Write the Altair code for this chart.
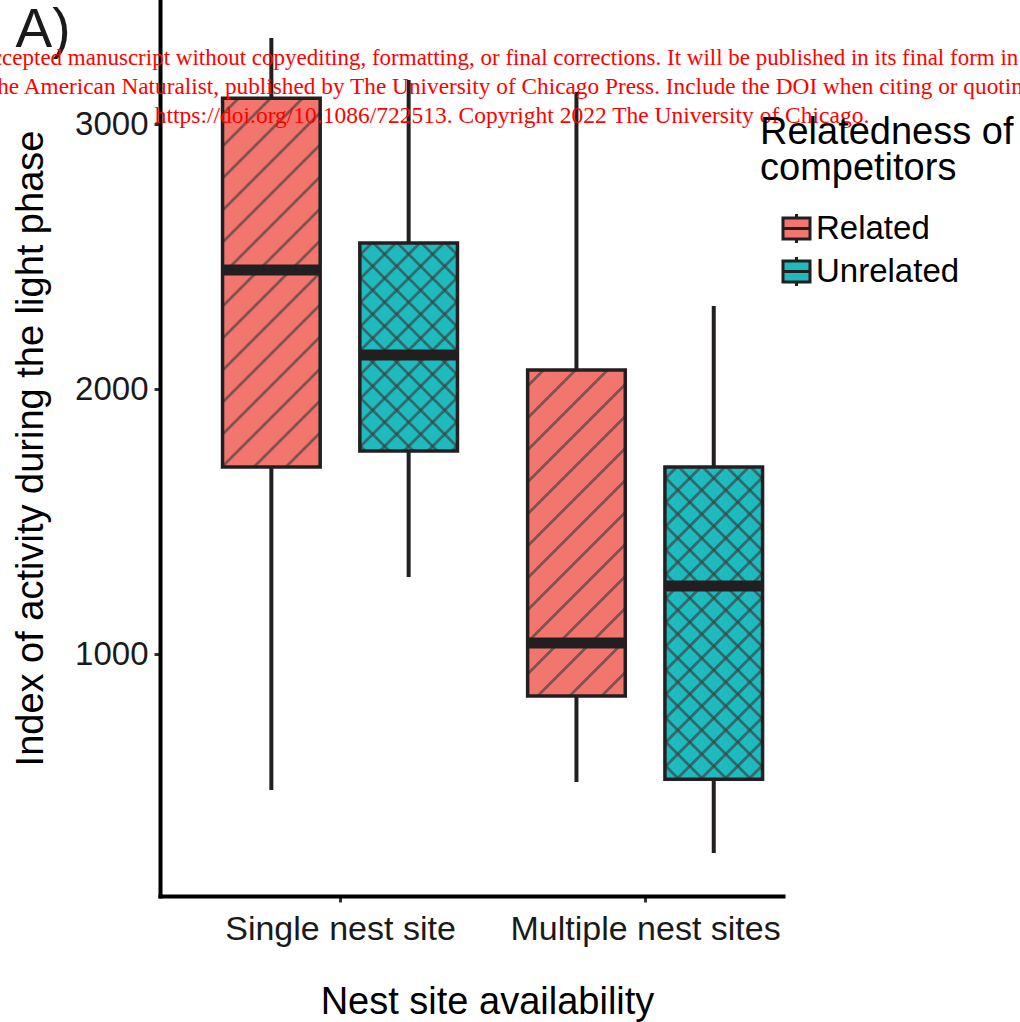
import altair as alt
import pandas as pd

# ---- data ----
sites = ["Single nest site", "Single nest site", "Multiple nest sites", "Multiple nest sites"]
relatedness = ["Related", "Unrelated", "Related", "Unrelated"]
whisker_low = [488, 1292, 518, 250]
q1 = [1707, 1767, 843, 529]
median = [2450, 2129, 1043, 1258]
q3 = [3098, 2552, 2073, 1707]
whisker_high = [3326, 3167, 3122, 2314]

rel_levels = ["Related", "Unrelated"]
rel_colors = ["#F3766E", "#1FBABD"]
site_levels = ["Single nest site", "Multiple nest sites"]

watermark = [
    "accepted manuscript without copyediting, formatting, or final corrections. It will be published in its final form in",
    "The American Naturalist, published by The University of Chicago Press. Include the DOI when citing or quoting:",
    "https://doi.org/10.1086/722513. Copyright 2022 The University of Chicago.",
]
watermark_sizes = [23.0, 23.3, 23.5]
watermark_x = [340, 352, 352]

df = pd.DataFrame({
    "site": sites, "rel": relatedness, "wlo": whisker_low, "q1": q1,
    "med": median, "q3": q3, "whi": whisker_high,
})

# ---- layout ----
W, H = 623, 896
XDOM = [0.41, 2.452]
YDOM = [88, 3469]
DODGE = 0.225
HALF = 0.16
INK = "#231F20"
FONT = "Liberation Sans"

px_x = W / (XDOM[1] - XDOM[0])
px_y = H / (YDOM[1] - YDOM[0])


def stripes(w, h, direction, period, lw, color, phase=0.0, soft=1.2):
    """Linear gradient in bounding-box units that draws 45 degree stripes."""
    S = w + h
    m = (w + h) / (w * w + h * h)
    a, b = w * m, h * m
    if direction == "/":
        x1, y1, x2, y2 = 0, 0, a, b
    else:
        x1, y1, x2, y2 = 1, 0, 1 - a, b
    clear = "rgba(60,60,60,0)"
    stops = [(0.0, clear)]
    c = phase
    while c - lw < S:
        for off, col in [(c - lw / 2 - soft, clear), (c - lw / 2, color),
                         (c + lw / 2, color), (c + lw / 2 + soft, clear)]:
            o = min(max(off / S, 0.0), 1.0)
            if o < stops[-1][0]:
                o = stops[-1][0]
            stops.append((o, col))
        c += period
    stops.append((1.0, clear))
    return alt.LinearGradient(
        gradient="linear", x1=x1, y1=y1, x2=x2, y2=y2,
        stops=[alt.GradientStop(color=col, offset=o) for o, col in stops],
    )


xs = alt.Scale(domain=XDOM, nice=False, zero=False)
ys = alt.Scale(domain=YDOM, nice=False, zero=False)

x_axis = alt.Axis(
    values=[1, 2], title="Nest site availability", grid=False,
    labelExpr="datum.value == 1 ? 'Single nest site' : 'Multiple nest sites'",
    labelFontSize=34, titleFontSize=38, labelFont=FONT, titleFont=FONT,
    labelColor="#1a1a1a", titleColor="#000", titleFontWeight="normal",
    domainColor="#000", domainWidth=4, domainCap="square", labelLimit=0,
    tickColor="#333", tickWidth=3, tickSize=6, labelPadding=10, titlePadding=37,
    titleX=327, titleAlign="center",
)
y_axis = alt.Axis(
    values=[1000, 2000, 3000], format="d", title="Index of activity during the light phase",
    grid=False, labelFontSize=33, titleFontSize=38, labelFont=FONT, titleFont=FONT,
    labelColor="#1a1a1a", titleColor="#000", titleFontWeight="normal",
    domainColor="#000", domainWidth=4, domainCap="square", titleLimit=0,
    tickColor="#333", tickWidth=3, tickSize=6, labelPadding=6, titlePadding=24,
)

base = alt.Chart(df).transform_calculate(
    xc="(datum.site == 'Single nest site' ? 1 : 2) + (datum.rel == 'Related' ? -%f : %f)" % (DODGE, DODGE),
).transform_calculate(
    xl="datum.xc - %f" % HALF, xr="datum.xc + %f" % HALF,
)

whiskers = base.mark_rule(color=INK, strokeWidth=4).encode(
    x=alt.X("xc:Q", scale=xs, axis=x_axis),
    y=alt.Y("wlo:Q", scale=ys, axis=y_axis),
    y2="whi:Q",
)

glyph = "M-0.9,-0.7H0.9V0.7H-0.9Z M-0.9,0H0.9 M0,-0.7V-0.97 M0,0.7V0.97"

boxes = base.mark_bar(strokeWidth=0).encode(
    x=alt.X("xl:Q", scale=xs), x2="xr:Q",
    y=alt.Y("q1:Q", scale=ys), y2="q3:Q",
    color=alt.Color(
        "rel:N", scale=alt.Scale(domain=rel_levels, range=rel_colors),
        legend=alt.Legend(
            title=["Relatedness of", "competitors"], orient="none",
            legendX=600, legendY=114, padding=0,
            symbolType=glyph, symbolSize=900, symbolStrokeColor=INK,
            symbolStrokeWidth=3, symbolOffset=20,
            labelFontSize=33, labelFont=FONT, labelColor="#000", labelOffset=3,
            labelLimit=0, titleLimit=0,
            titleFontSize=38, titleFont=FONT, titleColor="#000",
            titleFontWeight="normal", titleLineHeight=36, titlePadding=24,
            rowPadding=0,
        ),
    ),
)

layers = [whiskers, boxes]

STRIPE = "rgba(60,60,60,0.62)"
for s, r, lo, hi in zip(sites, relatedness, q1, q3):
    w = 2 * HALF * px_x
    h = (hi - lo) * px_y
    dirs = ["/"] if r == "Related" else ["/", "\\"]
    period = 32 if r == "Related" else 24
    for d in dirs:
        g = stripes(w, h, d, period, 2.8, STRIPE, phase=period / 2)
        layers.append(
            base.transform_filter(
                (alt.datum.site == s) & (alt.datum.rel == r)
            ).mark_bar(fill=g, strokeWidth=0).encode(
                x=alt.X("xl:Q", scale=xs), x2="xr:Q",
                y=alt.Y("q1:Q", scale=ys), y2="q3:Q",
            )
        )

outline = base.mark_bar(fillOpacity=0, stroke=INK, strokeWidth=3.5).encode(
    x=alt.X("xl:Q", scale=xs), x2="xr:Q",
    y=alt.Y("q1:Q", scale=ys), y2="q3:Q",
)
medians = base.mark_rule(color=INK, strokeWidth=11).encode(
    x=alt.X("xl:Q", scale=xs), x2="xr:Q",
    y=alt.Y("med:Q", scale=ys),
)
layers += [outline, medians]

panel_label = alt.Chart(pd.DataFrame({"t": ["A)"]})).mark_text(
    fontSize=55, font=FONT, color="#1a1a1a", align="center", baseline="middle",
).encode(text="t:N", x=alt.value(-117), y=alt.value(30))
layers.append(panel_label)

for i, (line, fs, lx) in enumerate(zip(watermark, watermark_sizes, watermark_x)):
    layers.append(
        alt.Chart(pd.DataFrame({"t": [line]})).mark_text(
            fontSize=fs, font="Liberation Serif", color="#FF0000",
            align="center", baseline="alphabetic",
        ).encode(text="t:N", x=alt.value(lx), y=alt.value(65 + 29 * i))
    )

chart = alt.layer(*layers).properties(
    width=W, height=H,
    autosize=alt.AutoSizeParams(type="none"),
    padding={"left": 160, "top": 0, "right": 1020 - 160 - W, "bottom": 1022 - H},
    background="white",
).configure_view(stroke=None)

chart.save("out.html", embed_options={"renderer": "svg", "actions": False})
